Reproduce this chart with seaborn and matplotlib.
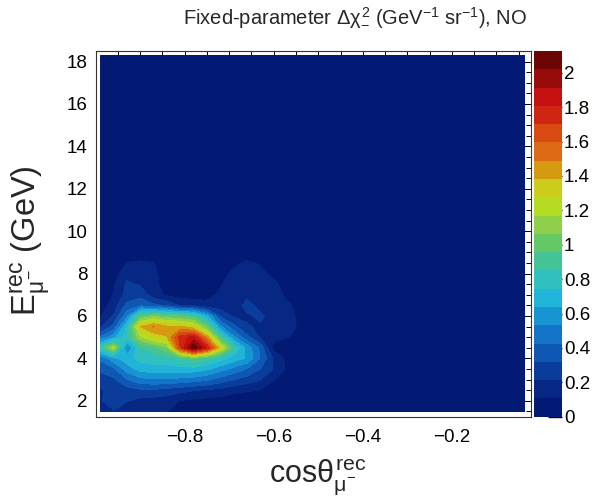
import numpy as np
import matplotlib
matplotlib.use("Agg")
import matplotlib.pyplot as plt
from matplotlib.colors import ListedColormap, BoundaryNorm
from matplotlib.ticker import FixedLocator, MultipleLocator
import seaborn as sns

# ---- data ----
cos_theta = [-0.989, -0.96, -0.93, -0.90, -0.87, -0.84, -0.81, -0.78, -0.75, -0.72,
             -0.69, -0.66, -0.63, -0.60, -0.57, -0.54, -0.51, -0.48, -0.036]
energy = [1.5, 2.0, 2.5, 3.0, 3.5, 4.0, 4.5, 5.0, 5.5, 6.0, 6.5, 7.0, 7.5, 8.0, 8.5, 9.0, 18.3]

row_e1_5 = [0.15, 0.20, 0.15, 0.13, 0.12, 0.11, 0.08, 0.05, 0.04, 0.03, 0.02, 0, 0, 0, 0, 0, 0, 0, 0]
row_e2_0 = [0.20, 0.30, 0.22, 0.18, 0.17, 0.15, 0.10, 0.08, 0.07, 0.06, 0.04, 0.03, 0.02, 0, 0, 0, 0, 0, 0]
row_e2_5 = [0.20, 0.25, 0.27, 0.30, 0.30, 0.28, 0.25, 0.22, 0.20, 0.18, 0.14, 0.12, 0.10, 0.07, 0.02, 0, 0, 0, 0]
row_e3_0 = [0.25, 0.30, 0.42, 0.50, 0.52, 0.52, 0.50, 0.48, 0.44, 0.38, 0.32, 0.27, 0.22, 0.11, 0.06, 0.02, 0, 0, 0]
row_e3_5 = [0.35, 0.40, 0.58, 0.68, 0.70, 0.70, 0.70, 0.70, 0.66, 0.58, 0.50, 0.42, 0.32, 0.20, 0.09, 0.02, 0, 0, 0]
row_e4_0 = [0.45, 0.60, 0.70, 0.78, 0.80, 0.82, 0.88, 0.95, 0.88, 0.78, 0.70, 0.62, 0.42, 0.20, 0.07, 0.02, 0, 0, 0]
row_e4_5 = [0.85, 1.20, 0.50, 0.85, 0.92, 1.05, 1.70, 2.12, 1.80, 1.30, 0.85, 0.60, 0.40, 0.06, 0.03, 0.02, 0, 0, 0]
row_e5_0 = [0.45, 0.60, 0.80, 1.15, 1.30, 1.38, 1.75, 1.85, 1.45, 0.90, 0.55, 0.35, 0.20, 0.14, 0.11, 0.09, 0.02, 0, 0]
row_e5_5 = [0.20, 0.35, 0.75, 1.38, 1.50, 1.40, 1.40, 1.30, 1.00, 0.55, 0.35, 0.22, 0.20, 0.16, 0.12, 0.10, 0.02, 0, 0]
row_e6_0 = [0.10, 0.22, 0.50, 0.95, 1.05, 1.00, 0.95, 0.90, 0.65, 0.30, 0.20, 0.20, 0.23, 0.18, 0.13, 0.09, 0, 0, 0]
row_e6_5 = [0.04, 0.16, 0.35, 0.40, 0.35, 0.30, 0.20, 0.18, 0.13, 0.15, 0.17, 0.24, 0.19, 0.17, 0.12, 0.08, 0, 0, 0]
row_e7_0 = [0.02, 0.11, 0.25, 0.28, 0.15, 0.09, 0.06, 0.05, 0.08, 0.12, 0.15, 0.19, 0.17, 0.14, 0.09, 0.05, 0, 0, 0]
row_e7_5 = [0, 0.09, 0.23, 0.20, 0.13, 0.07, 0.03, 0.02, 0.05, 0.10, 0.14, 0.17, 0.15, 0.12, 0.08, 0.03, 0, 0, 0]
row_e8_0 = [0, 0.05, 0.18, 0.15, 0.13, 0.05, 0.02, 0, 0.03, 0.08, 0.12, 0.15, 0.12, 0.09, 0.04, 0, 0, 0, 0]
row_e8_5 = [0, 0.02, 0.11, 0.12, 0.11, 0.04, 0, 0, 0.01, 0.05, 0.09, 0.12, 0.10, 0.04, 0.01, 0, 0, 0, 0]
row_e9_0 = [0, 0, 0.05, 0.05, 0.04, 0.01, 0, 0, 0, 0, 0.03, 0.05, 0.03, 0, 0, 0, 0, 0, 0]
row_e18_3 = [0] * 19

dchi2_rows = [row_e1_5, row_e2_0, row_e2_5, row_e3_0, row_e3_5, row_e4_0, row_e4_5,
              row_e5_0, row_e5_5, row_e6_0, row_e6_5, row_e7_0, row_e7_5, row_e8_0,
              row_e8_5, row_e9_0, row_e18_3]

z_max = 2.127
n_bands = 20
band_colors = ["#021a74", "#062884", "#0a3c9c", "#0e58b4", "#1474c8", "#1894d2",
               "#20b4d8", "#30c0c0", "#44c494", "#64c864", "#8ed04a", "#b4dc22",
               "#cccc1a", "#d49a10", "#dc6a14", "#d84a12", "#cf2412", "#c41010",
               "#990a0a", "#6e0505"]
x_ticks = [-0.8, -0.6, -0.4, -0.2]
x_tick_labels = ["\u22120.8", "\u22120.6", "\u22120.4", "\u22120.2"]
y_ticks = [2, 4, 6, 8, 10, 12, 14, 16, 18]
cbar_ticks = [0, 0.2, 0.4, 0.6, 0.8, 1.0, 1.2, 1.4, 1.6, 1.8, 2.0]
cbar_tick_labels = ["0", "0.2", "0.4", "0.6", "0.8", "1", "1.2", "1.4", "1.6", "1.8", "2"]

title = r"Fixed-parameter $\Delta\chi^{2}_{-}$ (GeV$^{-1}$ sr$^{-1}$), NO"
xlabel = r"cos$\theta^{\mathrm{rec}}_{\mu^{-}}$"
ylabel = r"E$^{\mathrm{rec}}_{\mu^{-}}$ (GeV)"

# ---- style ----
sns.set_theme(style="white")
plt.rcParams['font.family'] = ['Liberation Sans', 'DejaVu Sans']
plt.rcParams['mathtext.fontset'] = 'custom'
plt.rcParams['mathtext.rm'] = 'Liberation Sans'
plt.rcParams['mathtext.it'] = 'Liberation Sans'
plt.rcParams['mathtext.bf'] = 'Liberation Sans:bold'
plt.rcParams['axes.unicode_minus'] = True

fig = plt.figure(figsize=(6, 5), dpi=100)
fig.patch.set_facecolor("white")
ax = fig.add_axes([0.1595, 0.1666, 0.7255, 0.7314])
cax = fig.add_axes([0.89, 0.1666, 0.0467, 0.7314])

levels = np.linspace(0, z_max, n_bands + 1)
cmap = ListedColormap(sns.color_palette(band_colors))
norm = BoundaryNorm(levels, cmap.N)
Z = np.array(dchi2_rows, dtype=float)
cs = ax.contourf(cos_theta, energy, Z, levels=levels, cmap=cmap, norm=norm,
                 antialiased=False)

ax.set_facecolor("white")
ax.set_xlim(-1.0, -0.022)
ax.set_ylim(1.25, 18.5)
ax.xaxis.set_major_locator(FixedLocator(x_ticks))
ax.set_xticklabels(x_tick_labels)
ax.xaxis.set_minor_locator(MultipleLocator(0.05))
ax.yaxis.set_major_locator(FixedLocator(y_ticks))
ax.yaxis.set_minor_locator(MultipleLocator(0.5))
ax.tick_params(which='both', direction='in', top=True, right=True, colors='black',
               width=0.7)
ax.tick_params(which='major', length=7.5, labelsize=13.5, pad=9)
ax.tick_params(axis='y', which='major', pad=6)
ax.tick_params(which='minor', length=3.8)
for sp in ax.spines.values():
    sp.set_color('#333333')
    sp.set_linewidth(0.8)

cb = fig.colorbar(cs, cax=cax)
cb.set_ticks(cbar_ticks)
cb.set_ticklabels(cbar_tick_labels)
cb.outline.set_linewidth(0)
cax.tick_params(direction='in', length=10, width=1.0, colors='black',
                labelsize=13.5, pad=1.5, right=True, left=False)
cax.minorticks_off()

fig.text(0.592, 0.964, title, ha='center', va='center', fontsize=14.5)
fig.text(0.53, 0.046, xlabel, ha='center', va='center', fontsize=22)
fig.text(0.052, 0.518, ylabel, ha='center', va='center', rotation=90, fontsize=23.5)

fig.savefig("out.png", dpi=100)
